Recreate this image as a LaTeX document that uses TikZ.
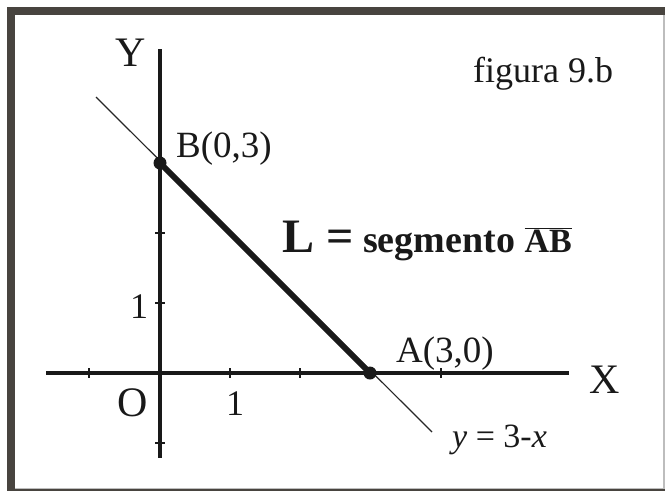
\documentclass[tikz,border=0pt]{standalone}
\usepackage{fontspec}
\setmainfont{Liberation Serif}
\definecolor{framegray}{HTML}{48443F}
\definecolor{edgegray}{HTML}{BDBDBD}
\tikzset{
  axisline/.style={line width=4pt, draw=black!90},
  tickmark/.style={line width=1.2pt, draw=black!90},
  guideline/.style={line width=1.2pt, draw=black!85},
  segline/.style={line width=6pt, draw=black!90},
  ptdot/.style={circle, fill=black!90, inner sep=0pt, minimum size=13pt},
  lbl/.style={anchor=base west, inner sep=0pt, text=black!90},
}
\begin{document}
\begin{tikzpicture}[x=1pt, y=-1pt]
\useasboundingbox (0,0) rectangle (665,491);
% frame
\fill[white] (0,0) rectangle (665,491);
\fill[framegray] (7,7) rectangle (665,491);
\fill[edgegray] (15,15) rectangle (665,489);
\fill[white] (15,15) rectangle (663,488);
% axes coordinates
\coordinate (xl) at (46,373);
\coordinate (xr) at (569,373);
\coordinate (yt) at (160,49);
\coordinate (yb) at (160,458);
\draw[axisline] (xl) -- (xr);
\draw[axisline] (yt) -- (yb);
% ticks
\foreach \t in {89,230,300,441} \draw[tickmark] (\t,368) -- (\t,378);
\foreach \t in {233,303,443} \draw[tickmark] (155,\t) -- (165,\t);
% guide line y = 3 - x
\coordinate (lt) at (96,97);
\coordinate (lb) at (432,432);
\draw[guideline] (lt) -- (lb);
% points
\node[ptdot] (B) at (160,163) {};
\node[ptdot] (A) at (370,373) {};
\draw[segline] (B.center) -- (A.center);
% labels
\node[lbl, font=\fontsize{42}{42}\selectfont] (Ylab) at (115,66) {Y};
\node[lbl, font=\fontsize{42}{42}\selectfont] (Xlab) at (589,393) {X};
\node[lbl, font=\fontsize{42}{42}\selectfont] (Olab) at (117,416) {O};
\node[lbl, font=\fontsize{36}{36}\selectfont] (onex) at (226,415) {1};
\node[lbl, font=\fontsize{36}{36}\selectfont] (oney) at (130,318) {1};
\node[lbl, font=\fontsize{37}{37}\selectfont] (Blab) at (176,157) {B(0,3)};
\node[lbl, font=\fontsize{37}{37}\selectfont] (Alab) at (396,362) {A(3,0)};
\node[lbl, font=\fontsize{36}{36}\selectfont] (fig) at (473,82) {figura 9.b};
\node[lbl, font=\bfseries\fontsize{38}{38}\selectfont] (Llab) at (282,252)
  {{\fontsize{48}{48}\selectfont L =} segmento $\overline{\hbox{\bfseries\fontsize{34}{34}\selectfont AB}}$};
\node[lbl, font=\fontsize{34}{34}\selectfont] (eq) at (452,447) {\textit{y} = 3-\textit{x}};
\end{tikzpicture}
\end{document}
